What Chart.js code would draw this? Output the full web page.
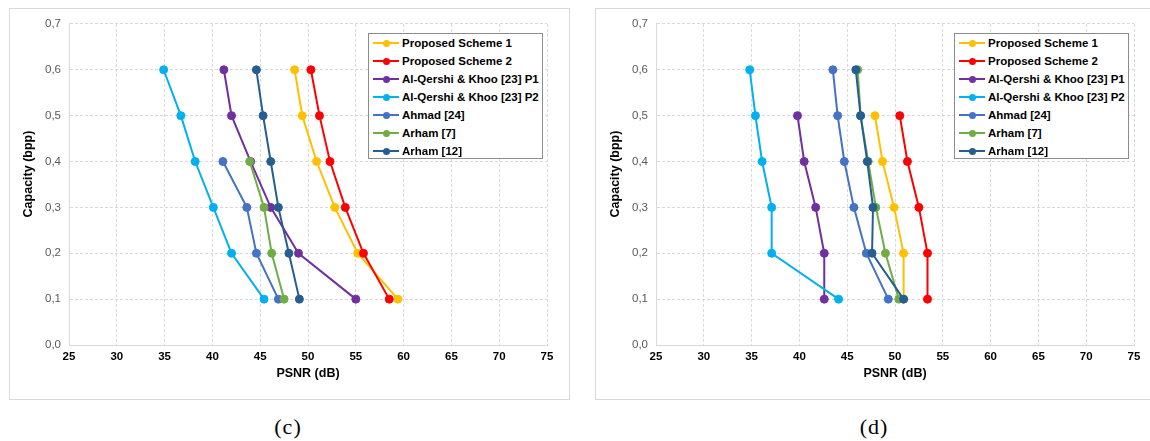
<!DOCTYPE html>
<html>
<head>
<meta charset="utf-8">
<script src="https://cdn.jsdelivr.net/npm/chart.js@4.4.1/dist/chart.umd.min.js"></script>
<style>
html,body{margin:0;padding:0;background:#fff;width:1150px;height:441px;overflow:hidden;position:relative;font-family:"Liberation Sans",Arial,sans-serif;}
.panel{position:absolute;top:8px;height:390px;border:1px solid #d9d9d9;background:#fff;}
#panelC{left:9px;width:559px;}
#panelD{left:595px;width:570px;}
.panel canvas{position:absolute;left:0;top:0;}
.legend{position:absolute;left:358px;top:24px;width:175px;height:126px;box-sizing:border-box;border:1px solid #8c8c8c;background:#fff;}
.legend .row{position:absolute;left:0;height:18px;width:173px;}
.legend .ln{position:absolute;left:4px;top:8px;width:26px;height:2px;}
.legend .dot{position:absolute;left:13.5px;top:5.5px;width:7px;height:7px;border-radius:50%;}
.legend .txt{position:absolute;left:33px;top:0;line-height:18px;font-size:11.5px;font-weight:bold;color:#000;white-space:nowrap;}
.caption{position:absolute;top:416px;line-height:21px;font-family:"Liberation Serif","Times New Roman",serif;font-size:22px;letter-spacing:1px;color:#000;transform:translateX(-50%);}
</style>
</head>
<body>
<div class="panel" id="panelC"><canvas id="chartC" width="559" height="390"></canvas></div>
<div class="panel" id="panelD"><canvas id="chartD" width="570" height="390"></canvas></div>
<div class="caption" style="left:288px;">(c)</div>
<div class="caption" style="left:874px;">(d)</div>
<script>
// Capacity levels (bpp), shared by every series
const capacity = [0.6, 0.5, 0.4, 0.3, 0.2, 0.1];

const seriesNames = ['Proposed Scheme 1', 'Proposed Scheme 2', 'Al-Qershi & Khoo [23] P1',
  'Al-Qershi & Khoo [23] P2', 'Ahmad [24]', 'Arham [7]', 'Arham [12]'];
const seriesColors = ['#FFC000', '#FF0000', '#7030A0', '#00B0F0', '#4472C4', '#70AD47', '#255E91'];

const xTickLabels = ['25', '30', '35', '40', '45', '50', '55', '60', '65', '70', '75'];
const yTickLabels = ['0,0', '0,1', '0,2', '0,3', '0,4', '0,5', '0,6', '0,7'];

// Panel (c): PSNR (dB) at capacity 0.6 ... 0.1
const cScheme1 = [48.6, 49.4, 50.9, 52.8, 55.2, 59.4];
const cScheme2 = [50.3, 51.2, 52.3, 53.9, 55.8, 58.5];
const cQershiP1 = [41.2, 42.0, 44.0, 46.1, 49.0, 55.0];
const cQershiP2 = [34.9, 36.7, 38.2, 40.1, 42.0, 45.4];
const cAhmad24 = [null, null, 41.1, 43.6, 44.6, 46.9];
const cArham7 = [null, null, 43.9, 45.4, 46.2, 47.5];
const cArham12 = [44.6, 45.3, 46.1, 46.9, 48.0, 49.1];

// Panel (d): PSNR (dB) at capacity 0.6 ... 0.1
const dScheme1 = [null, 47.9, 48.7, 49.9, 50.9, 50.9];
const dScheme2 = [null, 50.5, 51.3, 52.5, 53.4, 53.4];
const dQershiP1 = [null, 39.8, 40.5, 41.7, 42.6, 42.6];
const dQershiP2 = [34.8, 35.4, 36.1, 37.1, 37.1, 44.1];
const dAhmad24 = [43.5, 44.0, 44.7, 45.7, 47.0, 49.3];
const dArham7 = [46.1, 46.4, 47.2, 48.0, 49.0, 50.4];
const dArham12 = [45.9, 46.4, 47.1, 47.7, 47.6, 50.9];

const FONT = '"Liberation Sans", Arial, sans-serif';

function makeChart(canvasId, seriesValues, axisW, rightPad) {
  const n = seriesValues.length;
  const datasets = seriesValues.map((vals, i) => ({
    label: seriesNames[i],
    data: capacity.map((c, j) => ({x: vals[j], y: c})).filter(p => p.x !== null),
    borderColor: seriesColors[i],
    backgroundColor: seriesColors[i],
    pointBackgroundColor: seriesColors[i],
    pointBorderColor: seriesColors[i],
    pointRadius: 4,
    pointBorderWidth: 1,
    borderWidth: 2,
    showLine: true,
    tension: 0,
    order: n - i
  }));
  return new Chart(document.getElementById(canvasId), {
    type: 'scatter',
    data: {datasets},
    options: {
      responsive: false,
      animation: false,
      layout: {padding: {left: 0, top: 13, right: rightPad, bottom: 0}},
      plugins: {legend: {display: false}, tooltip: {enabled: false}},
      scales: {
        x: {
          type: 'linear', min: 25, max: 75,
          ticks: {stepSize: 5, padding: 5, color: '#000',
            font: {family: FONT, size: 11.5, weight: 'bold'},
            callback: (v, i) => xTickLabels[i]},
          grid: {color: '#d9d9d9', lineWidth: 1, drawTicks: false},
          border: {display: true, color: '#d9d9d9', width: 1, dash: [3, 2]},
          title: {display: true, text: 'PSNR (dB)', color: '#000',
            font: {family: FONT, size: 12.5, weight: 'bold'},
            padding: {top: 0, bottom: 17.5}},
          afterFit: s => { s.height = 54; }
        },
        y: {
          type: 'linear', min: 0, max: 0.7,
          ticks: {stepSize: 0.1, padding: 8, color: '#595959',
            font: {family: FONT, size: 11.5},
            callback: (v, i) => yTickLabels[i]},
          grid: {color: '#d9d9d9', lineWidth: 1, drawTicks: false},
          border: {display: true, color: '#d9d9d9', width: 1, dash: [3, 2]},
          title: {display: true, text: '      Capacity (bpp)', color: '#000',
            font: {family: FONT, size: 12.5, weight: 'bold'},
            padding: {top: axisW - 40.7 - 7.5, bottom: 0}},
          afterFit: s => { s.width = axisW; }
        }
      }
    }
  });
}

function buildLegend(panelId) {
  const lg = document.createElement('div');
  lg.className = 'legend';
  seriesNames.forEach((name, i) => {
    const row = document.createElement('div');
    row.className = 'row';
    row.style.top = (18 * i) + 'px';
    const ln = document.createElement('div');
    ln.className = 'ln'; ln.style.background = seriesColors[i];
    const dot = document.createElement('div');
    dot.className = 'dot'; dot.style.background = seriesColors[i];
    const txt = document.createElement('div');
    txt.className = 'txt'; txt.textContent = name;
    row.appendChild(ln); row.appendChild(dot); row.appendChild(txt);
    lg.appendChild(row);
  });
  document.getElementById(panelId).appendChild(lg);
}

makeChart('chartC', [cScheme1, cScheme2, cQershiP1, cQershiP2, cAhmad24, cArham7, cArham12], 59, 22);
makeChart('chartD', [dScheme1, dScheme2, dQershiP1, dQershiP2, dAhmad24, dArham7, dArham12], 60, 32);
buildLegend('panelC');
buildLegend('panelD');
</script>
</body>
</html>
